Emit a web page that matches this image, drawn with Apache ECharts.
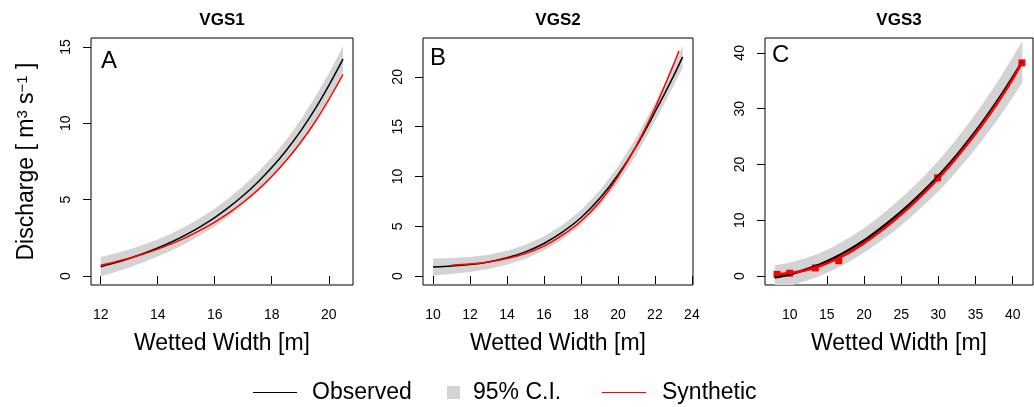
<!DOCTYPE html>
<html>
<head>
<meta charset="utf-8">
<title>VGS rating curves</title>
<style>
    html, body { margin: 0; padding: 0; background: #fff; }
    .chart { width: 1034px; height: 407px; }
</style>
<script src="https://cdn.jsdelivr.net/npm/echarts@6/dist/echarts.min.js"></script>
</head>
<body>
<div class="chart"></div>
<script>
// panel titles / letters
var panelTitles = ["VGS1", "VGS2", "VGS3"];
var panelLetters = ["A", "B", "C"];

// tick labels
var xTicksA = [12, 14, 16, 18, 20];
var xTicksB = [10, 12, 14, 16, 18, 20, 22, 24];
var xTicksC = [10, 15, 20, 25, 30, 35, 40];
var yTicksA = [0, 5, 10, 15];
var yTicksB = [0, 5, 10, 15, 20];
var yTicksC = [0, 10, 20, 30, 40];

// VGS1
var widthA = [12, 12.5, 13, 13.5, 14, 14.5, 15, 15.5, 16, 16.5, 17, 17.5, 18, 18.5, 19, 19.5, 20, 20.5];
var observedA = [0.61, 0.86, 1.15, 1.47, 1.83, 2.24, 2.71, 3.24, 3.83, 4.51, 5.27, 6.13, 7.10, 8.21, 9.46, 10.88, 12.47, 14.2];
var lowerA = [-0.03, 0.25, 0.56, 0.90, 1.27, 1.68, 2.15, 2.67, 3.25, 3.91, 4.65, 5.49, 6.44, 7.52, 8.74, 10.12, 11.67, 13.36];
var upperA = [1.25, 1.47, 1.74, 2.04, 2.39, 2.80, 3.27, 3.81, 4.41, 5.11, 5.89, 6.77, 7.76, 8.90, 10.18, 11.64, 13.27, 15.04];
var syntheticA = [0.70, 0.92, 1.16, 1.44, 1.76, 2.12, 2.53, 3.00, 3.53, 4.14, 4.83, 5.62, 6.52, 7.55, 8.71, 10.04, 11.55, 13.2];

// VGS2
var widthB = [10, 11, 12, 13, 14, 15, 16, 17, 18, 19, 20, 21, 22, 23, 23.5];
var observedB = [0.90, 1.00, 1.15, 1.42, 1.83, 2.43, 3.27, 4.40, 5.85, 7.75, 10.15, 13.05, 16.45, 20.05, 22.0];
var lowerB = [0.05, 0.20, 0.40, 0.70, 1.13, 1.73, 2.57, 3.68, 5.10, 6.97, 9.33, 12.18, 15.52, 19.05, 20.9];
var upperB = [1.75, 1.80, 1.90, 2.14, 2.53, 3.13, 3.97, 5.12, 6.60, 8.53, 10.97, 13.92, 17.38, 21.05, 23.1];
var synWidthB = [11, 12, 13, 14, 15, 16, 17, 18, 19, 20, 21, 22, 23, 23.3];
var syntheticB = [1.08, 1.20, 1.42, 1.75, 2.25, 3.0, 4.1, 5.5, 7.4, 9.95, 13.1, 16.85, 21.2, 22.6];

// VGS3
var widthC = [8, 10, 12, 14, 16, 18, 20, 22, 24, 26, 28, 30, 32, 34, 36, 38, 40, 41.3];
var observedC = [-0.29, 0.30, 1.07, 2.03, 3.25, 4.70, 6.35, 8.3, 10.4, 12.7, 15.2, 17.9, 20.9, 24.2, 27.7, 31.5, 35.6, 38.4];
var lowerC = [-2.49, -1.80, -0.98, -0.02, 1.15, 2.55, 4.15, 6.0, 8.0, 10.2, 12.6, 15.15, 18.0, 21.15, 24.5, 28.1, 32.0, 34.7];
var upperC = [1.91, 2.40, 3.12, 4.08, 5.35, 6.85, 8.55, 10.6, 12.8, 15.2, 17.8, 20.65, 23.8, 27.25, 30.9, 34.9, 39.2, 42.1];
var synWidthC = [8.3, 10, 12, 14, 16, 18, 20, 22, 24, 26, 28, 30, 32, 34, 36, 38, 40, 41.24];
var syntheticC = [0.30, 0.55, 1.0, 1.75, 2.85, 4.2, 5.9, 7.8, 9.9, 12.2, 14.75, 17.5, 20.5, 23.8, 27.3, 31.1, 35.3, 38.2];
var pointWidthC = [8.3, 10.0, 13.45, 16.6, 29.9, 41.24];
var pointQC = [0.3, 0.5, 1.45, 2.75, 17.6, 38.2];

(function () {
    var myChart = echarts.init(document.querySelector(".chart"));

    function pairs(xs, ys) {
        var out = [];
        for (var i = 0; i < xs.length; i++) {
            out.push([xs[i], ys[i]]);
        }
        return out;
    }

    // grey band: one polygon, upper edge then lower edge back
    function band(idx, xs, lo, hi) {
        return {
            name: "95% C.I.",
            type: "custom",
            xAxisIndex: idx,
            yAxisIndex: idx,
            clip: true,
            silent: true,
            itemStyle: { color: "#d3d3d3" },
            data: pairs(xs, hi),
            renderItem: function (params, api) {
                if (params.dataIndex !== 0) {
                    return;
                }
                var pts = [];
                for (var i = 0; i < xs.length; i++) {
                    pts.push(api.coord([xs[i], hi[i]]));
                }
                for (var j = xs.length - 1; j >= 0; j--) {
                    pts.push(api.coord([xs[j], lo[j]]));
                }
                return {
                    type: "polygon",
                    shape: { points: pts },
                    style: { fill: "#d3d3d3" }
                };
            }
        };
    }

    function curve(idx, name, xs, ys, color, width) {
        return {
            name: name,
            type: "line",
            xAxisIndex: idx,
            yAxisIndex: idx,
            data: pairs(xs, ys),
            symbol: "none",
            smooth: 0.3,
            clip: true,
            silent: true,
            itemStyle: { color: color },
            lineStyle: { color: color, width: width }
        };
    }

    function makeX(idx, min, max, ticks) {
        return {
            gridIndex: idx,
            type: "value",
            min: min,
            max: max,
            axisLine: { show: false },
            axisTick: {
                show: true,
                length: 8,
                customValues: ticks,
                lineStyle: { color: "#000", width: 1 }
            },
            axisLabel: { customValues: ticks, color: "#000", fontSize: 14, margin: 23 },
            splitLine: { show: false },
            name: "Wetted Width [m]",
            nameLocation: "middle",
            nameGap: 47,
            nameTextStyle: { color: "#000", fontSize: 23 }
        };
    }

    function makeY(idx, min, max, ticks) {
        return {
            gridIndex: idx,
            type: "value",
            min: min,
            max: max,
            axisLine: { show: false },
            axisTick: {
                show: true,
                length: 8,
                customValues: ticks,
                lineStyle: { color: "#000", width: 1 }
            },
            axisLabel: { customValues: ticks, color: "#000", fontSize: 14, rotate: 90, margin: 18 },
            splitLine: { show: false }
        };
    }

    function box(left, width) {
        return {
            left: left,
            top: 38,
            width: width,
            height: 247,
            show: true,
            borderColor: "#000",
            borderWidth: 1,
            backgroundColor: "transparent",
            containLabel: false,
            outerBoundsMode: "none"
        };
    }

    function headTitle(text, left) {
        return {
            text: text,
            left: left,
            top: 12,
            padding: 0,
            textAlign: "center",
            textVerticalAlign: "top",
            textStyle: { fontSize: 17, fontWeight: "bold", color: "#000" }
        };
    }

    function letter(text, left, top) {
        return {
            text: text,
            left: left,
            top: top,
            padding: 0,
            textAlign: "left",
            textVerticalAlign: "top",
            textStyle: { fontSize: 24, fontWeight: "normal", color: "#000" }
        };
    }

    // one legend per entry, line or square icon
    function legendItem(name, color, left, w, h, gap) {
        return {
            data: [{ name: name, icon: "rect", itemStyle: { color: color, borderWidth: 0 } }],
            left: left,
            top: 381,
            padding: 0,
            itemWidth: w,
            itemHeight: h,
            selectedMode: false,
            itemStyle: { color: color, borderWidth: 0 },
            lineStyle: { color: color, width: 0 },
            textStyle: { fontSize: 23, color: "#000", padding: [0, 0, 0, gap] }
        };
    }

    var yAxisA = makeY(0, -0.59, 15.59, yTicksA);
    // y title with superscripts
    yAxisA.name = "{a|Discharge [ m}{s|3}{a| s}{s|\u22121}{a| ]}";
    yAxisA.nameLocation = "middle";
    yAxisA.nameRotate = 90;
    yAxisA.nameGap = 53;
    yAxisA.nameTextStyle = {
        color: "#000",
        rich: {
            a: { fontSize: 23, color: "#000" },
            s: { fontSize: 15, color: "#000", verticalAlign: "top" }
        }
    };

    var option = {
        animation: false,
        backgroundColor: "#fff",
        textStyle: { fontFamily: "Liberation Sans, Arial, sans-serif" },
        title: [
            headTitle(panelTitles[0], 222),
            headTitle(panelTitles[1], 558),
            headTitle(panelTitles[2], 899),
            letter(panelLetters[0], 101, 49),
            letter(panelLetters[1], 430, 46),
            letter(panelLetters[2], 772, 43)
        ],
        legend: [
            legendItem("Observed", "#000", 253, 44, 1, 10),
            legendItem("95% C.I.", "#d3d3d3", 447, 13, 13, 8),
            legendItem("Synthetic", "#ff0000", 602, 44, 1, 11)
        ],
        grid: [box(91, 262), box(423, 270), box(765, 268)],
        xAxis: [
            makeX(0, 11.66, 20.85, xTicksA),
            makeX(1, 9.46, 24.06, xTicksB),
            makeX(2, 6.68, 42.73, xTicksC)
        ],
        yAxis: [
            yAxisA,
            makeY(1, -0.9, 23.9, yTicksB),
            makeY(2, -1.61, 42.66, yTicksC)
        ],
        series: [
            band(0, widthA, lowerA, upperA),
            curve(0, "Observed", widthA, observedA, "#000", 1.5),
            curve(0, "Synthetic", widthA, syntheticA, "#ff0000", 1.5),

            band(1, widthB, lowerB, upperB),
            curve(1, "Observed", widthB, observedB, "#000", 1.5),
            curve(1, "Synthetic", synWidthB, syntheticB, "#ff0000", 1.5),

            band(2, widthC, lowerC, upperC),
            curve(2, "Observed", widthC, observedC, "#000", 2.5),
            curve(2, "Synthetic", synWidthC, syntheticC, "#ff0000", 2.5),
            {
                name: "Synthetic points",
                type: "scatter",
                xAxisIndex: 2,
                yAxisIndex: 2,
                symbol: "rect",
                symbolSize: 7,
                silent: true,
                itemStyle: { color: "#ff0000", opacity: 1 },
                data: pairs(pointWidthC, pointQC)
            }
        ]
    };
    myChart.setOption(option);
    window.addEventListener('resize', function () {
        myChart.resize();
    })
})();
</script>
</body>
</html>
